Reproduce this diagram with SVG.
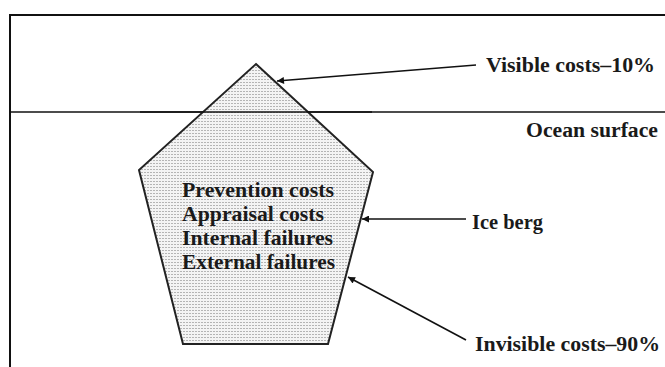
<svg xmlns="http://www.w3.org/2000/svg" width="665" height="367" viewBox="0 0 665 367">
  <style>
    .lbl { font-family: "Liberation Serif", "Times New Roman", serif; font-weight: bold; font-size: 20px; fill: #1a1a1a; }
    .inner { font-family: "Liberation Serif", "Times New Roman", serif; font-weight: bold; font-size: 20.5px; fill: #1a1a1a; }
    .frame { stroke: #111; stroke-width: 2; fill: none; }
    .conn { stroke: #111; stroke-width: 1.6; fill: none; marker-end: url(#head); }
  </style>
  <defs>
    <pattern id="dots" width="3" height="3" patternUnits="userSpaceOnUse">
      <rect width="3" height="3" fill="#f4f4f4"/>
      <rect x="0" y="1" width="2" height="1" fill="#b5b5b5"/>
    </pattern>
    <marker id="head" viewBox="0 0 10 10" refX="10" refY="5" markerWidth="9" markerHeight="7" markerUnits="userSpaceOnUse" orient="auto">
      <path d="M0,0 L10,5 L0,10 z" fill="#111"/>
    </marker>
  </defs>

  <rect width="665" height="367" fill="#fff"/>

  <!-- outer frame: top and left edges -->
  <path class="frame" d="M10,367 V15 H665"/>

  <!-- ocean surface line -->
  <line x1="10" y1="112" x2="665" y2="112" stroke="#111" stroke-width="1.6"/>

  <!-- iceberg -->
  <g id="iceberg">
    <polygon points="256,64 373,172 328,344 183,344 139,170" fill="url(#dots)" stroke="#222" stroke-width="2" stroke-linejoin="miter"/>
    <line x1="140" y1="112" x2="372" y2="112" stroke="#111" stroke-width="1.6"/>
    <text class="inner" x="182" y="197" textLength="152" lengthAdjust="spacingAndGlyphs">Prevention costs</text>
    <text class="inner" x="182" y="221" textLength="142" lengthAdjust="spacingAndGlyphs">Appraisal costs</text>
    <text class="inner" x="182" y="245" textLength="151" lengthAdjust="spacingAndGlyphs">Internal failures</text>
    <text class="inner" x="182" y="269" textLength="153" lengthAdjust="spacingAndGlyphs">External failures</text>
  </g>

  <g id="visible">
    <text class="lbl" x="486" y="72" textLength="169" lengthAdjust="spacingAndGlyphs">Visible costs–10%</text>
  </g>
  <g id="ocean">
    <text class="lbl" x="526" y="137" textLength="132" lengthAdjust="spacingAndGlyphs">Ocean surface</text>
  </g>
  <g id="icelabel">
    <text class="lbl" x="472" y="229" textLength="71" lengthAdjust="spacingAndGlyphs">Ice berg</text>
  </g>
  <g id="invisible">
    <text class="lbl" x="475" y="351" textLength="185" lengthAdjust="spacingAndGlyphs">Invisible costs–90%</text>
  </g>

  <g id="connectors">
    <line class="conn" x1="476" y1="65" x2="277" y2="81"/>
    <line class="conn" x1="466" y1="219" x2="362" y2="219"/>
    <line class="conn" x1="466" y1="340" x2="348" y2="277"/>
  </g>
</svg>
